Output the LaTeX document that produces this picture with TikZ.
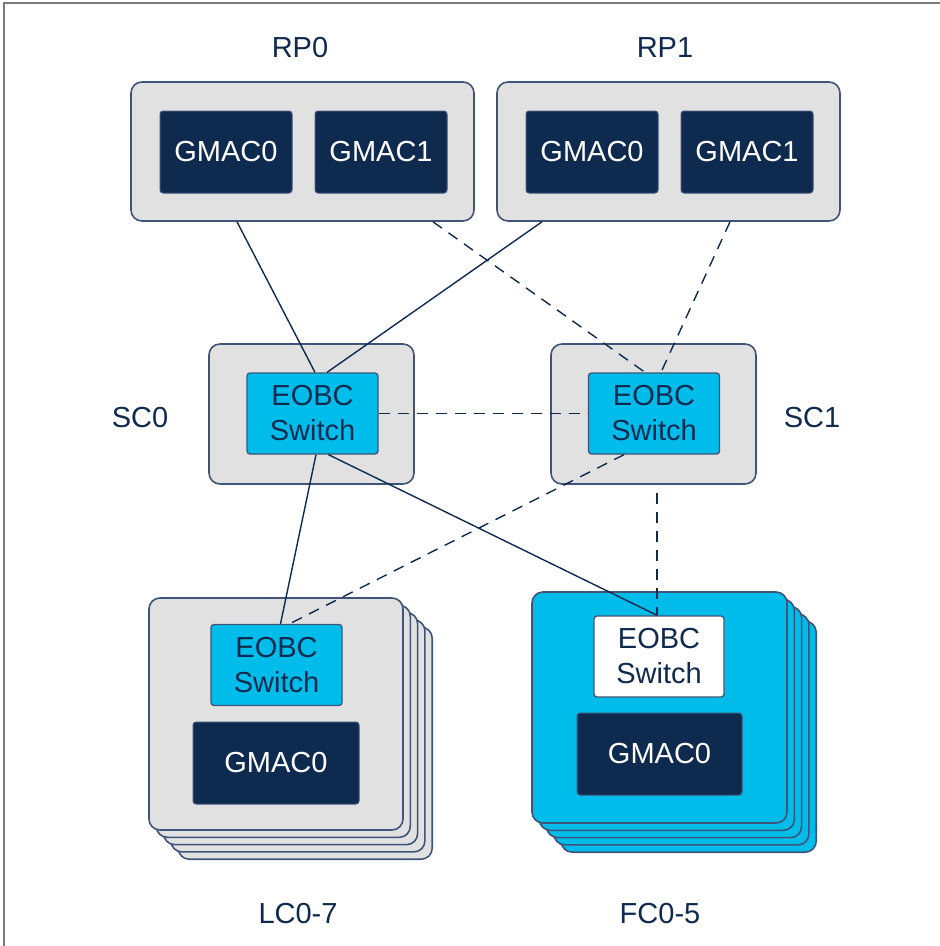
\documentclass[tikz,border=0pt]{standalone}
\usepackage{fontspec}
\setmainfont{Liberation Sans}
\definecolor{navy}{HTML}{0F2A4F}
\definecolor{edge}{HTML}{3F5478}
\definecolor{lgray}{HTML}{E1E1E1}
\definecolor{cyanb}{HTML}{00BCEB}
\definecolor{framec}{HTML}{7A7A7A}
\tikzset{
  card/.style={draw=edge, line width=1.6pt, fill=lgray, rounded corners=11pt, inner sep=0pt},
  fccard/.style={draw=edge, line width=1.6pt, fill=cyanb, rounded corners=11pt, inner sep=0pt},
  gmac/.style={draw=edge, line width=1pt, fill=navy, text=white, rounded corners=3pt, inner sep=0pt,
    minimum width=132pt, minimum height=82pt, font=\fontsize{29}{35}\selectfont},
  eobc/.style={draw=edge, line width=1.3pt, fill=cyanb, text=navy, rounded corners=3pt, inner sep=0pt,
    minimum width=131pt, minimum height=81pt, align=center, font=\fontsize{29}{35}\selectfont},
  lbl/.style={text=navy, inner sep=0pt, font=\fontsize{29}{35}\selectfont},
  link/.style={draw=navy, line width=1.4pt},
  dlink/.style={draw=navy, line width=1.4pt, dash pattern=on 11pt off 8pt}
}
\begin{document}
\begin{tikzpicture}[x=1pt,y=-1pt]
\useasboundingbox (0,0) rectangle (940,946);
% frame
\draw[framec, line width=1.8pt] (4,946) -- (4,3) -- (940,3);

% labels
\node[lbl] (lrp0) at (300,48) {RP0};
\node[lbl] (lrp1) at (665,48) {RP1};
\node[lbl] (lsc0) at (140,418) {SC0};
\node[lbl] (lsc1) at (812,418) {SC1};
\node[lbl] (llc) at (298,914) {LC0-7};
\node[lbl] (lfc) at (660,914) {FC0-5};

% RP boxes
\node[card, minimum width=343pt, minimum height=139pt] (rp0) at (302.5,151.5) {};
\node[gmac] (rp0g0) at (226,152) {GMAC0};
\node[gmac] (rp0g1) at (381,152) {GMAC1};
\node[card, minimum width=343pt, minimum height=139pt] (rp1) at (668.5,151.5) {};
\node[gmac] (rp1g0) at (592,152) {GMAC0};
\node[gmac] (rp1g1) at (747,152) {GMAC1};

% SC boxes
\node[card, minimum width=205pt, minimum height=140pt] (sc0) at (311.5,414) {};
\node[eobc] (sc0sw) at (312.5,413.5) {EOBC\\Switch};
\node[card, minimum width=205pt, minimum height=140pt] (sc1) at (653.5,414) {};
\node[eobc] (sc1sw) at (654,413.5) {EOBC\\Switch};

% LC stack
\foreach \k in {4,3,2,1}{
  \node[card, minimum width=254pt, minimum height=232pt] (lcb\k) at (276+7.3*\k,714+7.3*\k) {};
}
\node[card, minimum width=254pt, minimum height=232pt] (lc) at (276,714) {};
\node[eobc] (lcsw) at (276.5,665) {EOBC\\Switch};
\node[gmac, minimum width=166pt] (lcg) at (276,763) {GMAC0};

% FC stack
\foreach \k in {4,3,2,1}{
  \node[fccard, minimum width=255pt, minimum height=231pt] (fcb\k) at (659.5+7.3*\k,707.5+7.3*\k) {};
}
\node[fccard, minimum width=255pt, minimum height=231pt] (fc) at (659.5,707.5) {};
\node[eobc, fill=white, minimum width=130pt] (fcsw) at (659,656.5) {EOBC\\Switch};
\node[gmac, minimum width=165pt] (fcg) at (659.5,754) {GMAC0};

% connectors
\draw[link] ([xshift=-65.5pt]rp0.south) -- ([xshift=2.5pt]sc0sw.north);
\draw[dlink] ([xshift=130.5pt]rp0.south) -- ([xshift=-9pt]sc1sw.north);
\draw[link] ([xshift=-126.5pt]rp1.south) -- ([xshift=14.5pt]sc0sw.north);
\draw[dlink] ([xshift=61.5pt]rp1.south) -- ([xshift=7pt]sc1sw.north);
\draw[dlink] (sc0sw.east) -- (sc1sw.west);
\draw[link] ([xshift=3.5pt]sc0sw.south) -- ([xshift=4pt]lcsw.north);
\draw[link] ([xshift=16pt]sc0sw.south) -- ([xshift=-2pt]fcsw.north);
\draw[dlink] ([xshift=-30pt]sc1sw.south) -- ([xshift=13pt]lcsw.north);
\coordinate (sc1low) at ([xshift=3.5pt,yshift=-8pt]sc1.south);
\draw[dlink] (sc1low) -- ([xshift=-2pt]fcsw.north);
\end{tikzpicture}
\end{document}
